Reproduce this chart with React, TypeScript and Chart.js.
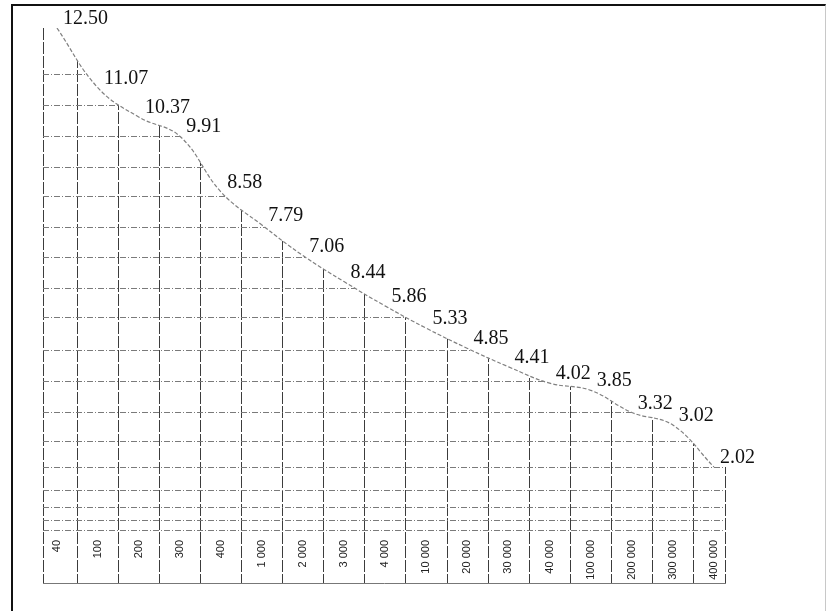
import { useEffect, useRef } from "react";
import { Chart, registerables } from "chart.js";

Chart.register(...registerables);

// Categories along the bottom
const categories = [
  "40", "100", "200", "300", "400",
  "1 000", "2 000", "3 000", "4 000",
  "10 000", "20 000", "30 000", "40 000",
  "100 000", "200 000", "300 000", "400 000",
];

// Curve values (the 8th label is printed "8.44" but the curve keeps falling there)
const values = [
  12.5, 11.07, 10.37, 9.91, 8.58, 7.79, 7.06, 6.44, 5.86,
  5.33, 4.85, 4.41, 4.02, 3.85, 3.32, 3.02, 2.02,
];

// Value labels exactly as printed on the picture
const valueLabels = [
  "12.50", "11.07", "10.37", "9.91", "8.58", "7.79", "7.06", "8.44", "5.86",
  "5.33", "4.85", "4.41", "4.02", "3.85", "3.32", "3.02", "2.02",
];

// Horizontal grid line values (no tick labels shown)
const gridY = [
  11.38, 10.66, 9.92, 9.18, 8.47, 7.73, 7.01, 6.29, 5.58,
  4.79, 4.07, 3.33, 2.62, 2.0, 1.45, 1.06, 0.75, 0.51,
];

const Y_MIN = -0.75;
const Y_MAX = 12.5;
const X_MIN = -0.34;
const X_MAX = 16.27;

const coverOutside = {
  id: "coverOutside",
  beforeDatasetsDraw(chart: any) {
    const meta = chart.getDatasetMeta(0);
    const pts = meta.data;
    if (!pts || !pts.length) return;
    const { ctx, chartArea } = chart;
    const first = pts[0];
    const last = pts[pts.length - 1];
    ctx.save();
    ctx.fillStyle = "#ffffff";
    if (first.y > chartArea.top) {
      ctx.fillRect(chartArea.left - 1, chartArea.top, first.x - chartArea.left + 1, first.y - chartArea.top);
    }
    ctx.fillRect(last.x, chartArea.top - 1, chartArea.right - last.x + 2, last.y - chartArea.top + 1);
    ctx.restore();
  },
};

const pointText = {
  id: "pointText",
  afterDatasetsDraw(chart: any) {
    const meta = chart.getDatasetMeta(0);
    const { ctx } = chart;
    ctx.save();
    ctx.font = '20px "Liberation Serif", "Times New Roman", serif';
    ctx.fillStyle = "#111";
    ctx.textAlign = "left";
    ctx.textBaseline = "alphabetic";
    meta.data.forEach((p: any, i: number) => {
      ctx.fillText(valueLabels[i], p.x + 6, p.y - 4);
    });
    ctx.restore();
  },
};

export default function App() {
  const ref = useRef<HTMLCanvasElement | null>(null);

  useEffect(() => {
    if (!ref.current) return;
    const chart = new Chart(ref.current, {
      type: "line",
      data: {
        datasets: [
          {
            data: values.map((v, i) => ({ x: i, y: v })),
            borderColor: "#808080",
            borderWidth: 1.2,
            borderDash: [4, 2],
            pointRadius: 0,
            tension: 0.4,
            fill: "end",
            backgroundColor: "#ffffff",
          },
        ],
      },
      options: {
        animation: false,
        responsive: false,
        devicePixelRatio: 1,
        layout: { padding: { left: 41, right: 103, top: 28, bottom: 28 } },
        plugins: {
          legend: { display: false },
          tooltip: { enabled: false },
        },
        scales: {
          x: {
            type: "linear",
            min: X_MIN,
            max: X_MAX,
            afterBuildTicks: (s: any) => {
              const t: any[] = [{ value: s.min }];
              categories.forEach((_, i) => {
                t.push({ value: i });
                if (i < categories.length - 1) t.push({ value: i + 0.5 });
              });
              t.push({ value: s.max });
              s.ticks = t;
            },
            afterFit: (s: any) => {
              s.height = 0;
            },
            grid: {
              drawTicks: false,
              color: (c: any) =>
                c.tick && Number.isInteger(c.tick.value) ? "rgba(0,0,0,0)" : "#3c3c3c",
              lineWidth: 1,
            },
            border: { display: true, color: "#777", width: 1, dash: [12, 2] },
            ticks: {
              autoSkip: false,
              minRotation: 90,
              maxRotation: 90,
              mirror: true,
              padding: 43,
              labelOffset: 13,
              color: "#222",
              font: { family: '"Liberation Sans", Arial, sans-serif', size: 11 },
              callback: (v: any) => (Number.isInteger(v) ? categories[v] : ""),
            },
          },
          y: {
            type: "linear",
            min: Y_MIN,
            max: Y_MAX,
            afterBuildTicks: (s: any) => {
              s.ticks = gridY.map((v) => ({ value: v }));
            },
            afterFit: (s: any) => {
              s.width = 0;
            },
            grid: { drawTicks: false, color: "#7a7a7a", lineWidth: 1 },
            border: { display: false, dash: [6, 2, 1, 2] },
            ticks: { display: false },
          },
        },
      },
      plugins: [coverOutside, pointText],
    } as any);
    return () => chart.destroy();
  }, []);

  return (
    <div
      style={{
        position: "absolute",
        left: 0,
        top: 0,
        width: 828,
        height: 611,
        overflow: "hidden",
        background: "#fff",
      }}
    >
      <div
        style={{
          position: "absolute",
          left: 11,
          top: 4,
          width: 812,
          height: 700,
          borderTop: "2px solid #111",
          borderLeft: "2px solid #111",
          borderRight: "1px solid #c8c8c8",
        }}
      />
      <canvas
        ref={ref}
        width={828}
        height={611}
        style={{ position: "absolute", left: 0, top: 0, display: "block" }}
      />
    </div>
  );
}
